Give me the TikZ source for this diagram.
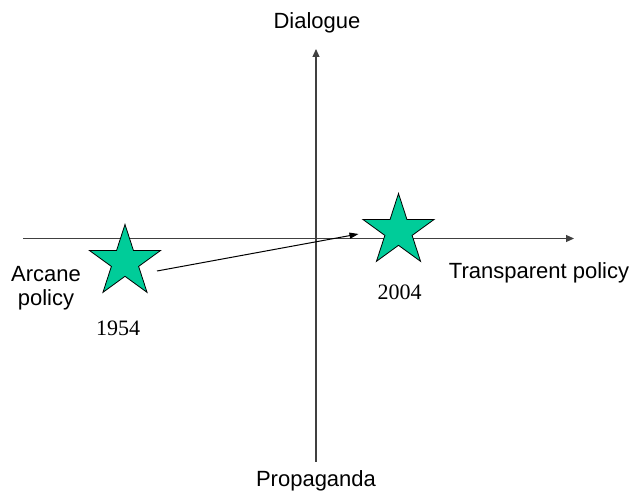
\documentclass[tikz,border=0pt]{standalone}
\usepackage{fontspec}
\setmainfont{Liberation Sans}
\newfontfamily\yearfont{Liberation Serif}
\usetikzlibrary{shapes.geometric,arrows.meta,calc}
\definecolor{stargreen}{HTML}{00CC99}
\definecolor{axisgray}{HTML}{404040}
\begin{document}
\begin{tikzpicture}[x=1pt,y=-1pt,
  lbl/.style={font=\fontsize{22}{24}\selectfont, inner sep=0pt, anchor=base},
  yr/.style={font=\yearfont\fontsize{22}{24}\selectfont, inner sep=0pt, anchor=base},
  starnode/.style={star, star points=5, star point ratio=2.618, minimum size=75pt, inner sep=0pt, fill=stargreen, draw=black, line width=0.8pt},
  axis/.style={draw=axisgray, line width=1.1pt, -{Triangle[length=8pt,width=7pt]}},
  conn/.style={draw=black, line width=1pt, -{Triangle[length=9pt,width=6pt]}}]
\useasboundingbox (0,0) rectangle (630,494);
% axes
\coordinate (hl) at (23,238.5);
\coordinate (hr) at (574,238.5);
\coordinate (vb) at (316,462);
\coordinate (vt) at (316,49);
\draw[axis] (hl) -- (hr);
\draw[axis] (vb) -- (vt);
% stars
\node[starnode] (s1) at (125,262) {};
\node[starnode] (s2) at (398.5,231) {};
% labels
\node[lbl] (dia) at (317,29) {Dialogue};
\node[lbl] (pro) at (316,487) {Propaganda};
\node[lbl, align=center] (arc) at (46,306) {Arcane\\policy};
\node[lbl] (tra) at (539,279) {Transparent policy};
\node[yr] (y1) at (118,336) {1954};
\node[yr] (y2) at (399.5,300) {2004};
% connector
\coordinate (a1) at ($(s1.center)+(32,9)$);
\coordinate (a2) at ($(s2.center)+(-40,3)$);
\draw[conn] (a1) -- (a2);
\end{tikzpicture}
\end{document}
